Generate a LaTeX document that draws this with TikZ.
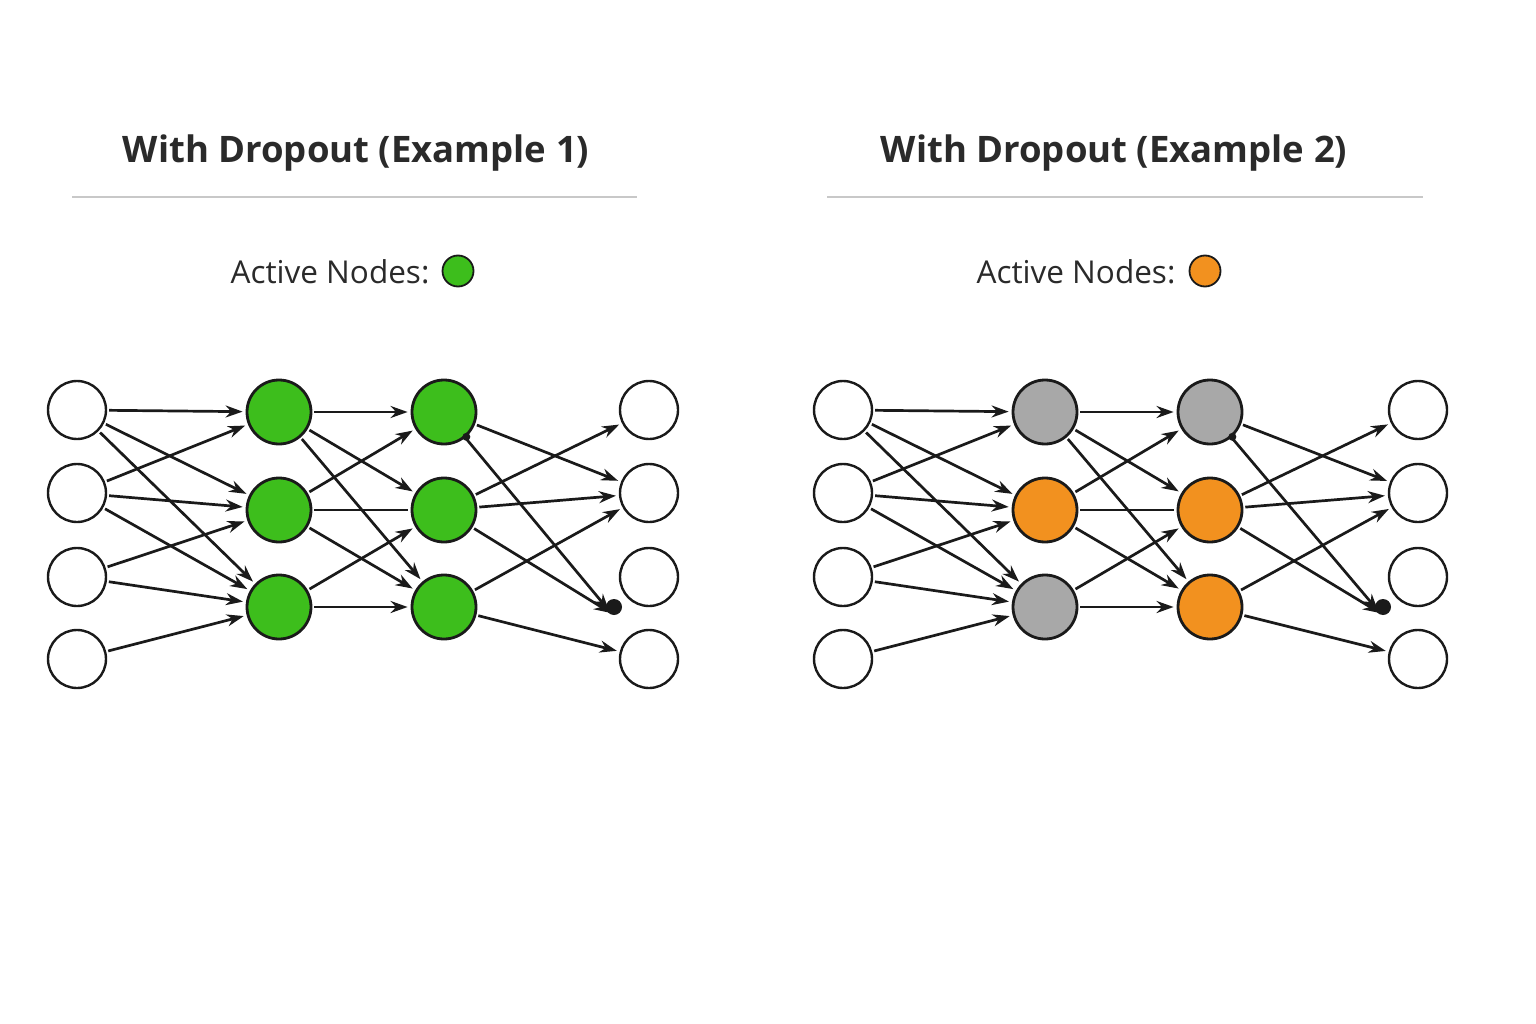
\documentclass[tikz,border=0pt]{standalone}
\usepackage{fontspec}
\setmainfont{Open Sans}
\usetikzlibrary{arrows.meta}
\definecolor{gr}{HTML}{3DBE1C}
\definecolor{og}{HTML}{F2911F}
\definecolor{gy}{HTML}{A8A8A8}
\definecolor{ink}{HTML}{1A1A1A}
\definecolor{txt}{HTML}{2A2A2A}
\definecolor{rulec}{HTML}{C8C8C8}
\tikzset{
  inn/.style={circle,draw=ink,line width=2.4pt,fill=white,minimum size=58pt,inner sep=0pt},
  hid/.style={circle,draw=ink,line width=2.8pt,minimum size=64pt,inner sep=0pt},
  arr/.style={-{Stealth[length=17pt,width=12pt]},line width=2.7pt,draw=ink,shorten >=3pt,shorten <=2pt},
  ln/.style={line width=2.7pt,draw=ink,shorten >=3pt,shorten <=2pt},
  titletxt/.style={font=\fontsize{36.5}{44}\selectfont\bfseries,text=txt,inner sep=0pt},
  legtxt/.style={font=\fontsize{31.5}{36}\selectfont,text=txt,inner sep=0pt},
  legdot/.style={circle,draw=ink,line width=1.8pt,minimum size=31pt,inner sep=0pt},
  rulel/.style={draw=rulec,line width=1.5pt}
}
\newcommand\netdraw[9]{%
\begin{scope}[name prefix=#1-, xshift=#2]
  \node[inn] (i1) at (77,410) {};
  \node[inn] (i2) at (77,493) {};
  \node[inn] (i3) at (77,577) {};
  \node[inn] (i4) at (77,659) {};
  \node[hid,fill=#4] (a1) at (279,412) {};
  \node[hid,fill=#5] (a2) at (279,510) {};
  \node[hid,fill=#6] (a3) at (279,607) {};
  \node[hid,fill=#7] (b1) at (444,412) {};
  \node[hid,fill=#8] (b2) at (444,510) {};
  \node[hid,fill=#9] (b3) at (444,607) {};
  \node[inn] (o1) at (#3,410) {};
  \node[inn] (o2) at (#3,493) {};
  \node[inn] (o3) at (#3,577) {};
  \node[inn] (o4) at (#3,659) {};
  \coordinate (blob) at (#3-35,607);
  \coordinate (blobin) at (#3-38,613);
  % input -> hidden 1
  \draw[arr] (i1) -- (a1);
  \draw[arr] (i1) -- (a2);
  \draw[arr] (i1) -- (a3);
  \draw[arr] (i2) -- (a1);
  \draw[arr] (i2) -- (a2);
  \draw[arr] (i2) -- (a3);
  \draw[arr] (i3) -- (a2);
  \draw[arr] (i3) -- (a3);
  \draw[arr] (i4) -- (a3);
  % hidden 1 -> hidden 2
  \draw[arr] (a1) -- (b1);
  \draw[arr] (a1) -- (b2);
  \draw[arr] (a1) -- (b3);
  \draw[arr] (a2) -- (b1);
  \draw[ln]  (a2) -- (b2);
  \draw[arr] (a2) -- (b3);
  \draw[arr] (a3) -- (b2);
  \draw[arr] (a3) -- (b3);
  % hidden 2 -> output
  \draw[arr] (b1) -- (o2);
  \draw[arr,shorten <=0pt] (b1) -- (blobin);
  \fill[ink] (b1.-48) circle (4pt);
  \draw[arr] (b2) -- (o1);
  \draw[arr] (b2) -- (o2);
  \draw[arr,shorten >=0pt] (b2) -- (blobin);
  \draw[arr] (b3) -- (o2);
  \draw[arr] (b3) -- (o4);
  \fill[ink] (blob) circle (8pt);
\end{scope}}
\begin{document}
\begin{tikzpicture}[x=1pt,y=-1pt]
  \useasboundingbox[fill=white] (0,0) rectangle (1536,1024);
  % left header
  \node[titletxt] (t1) at (356,153) {With Dropout (Example 1)};
  \coordinate (r1a) at (72,197);
  \coordinate (r1b) at (637,197);
  \draw[rulel] (r1a) -- (r1b);
  \node[legtxt] (l1) at (330,272) {Active Nodes:};
  \node[legdot,fill=gr] (d1) at (458,271) {};
  % right header
  \node[titletxt] (t2) at (1114,153) {With Dropout (Example 2)};
  \coordinate (r2a) at (827,197);
  \coordinate (r2b) at (1423,197);
  \draw[rulel] (r2a) -- (r2b);
  \node[legtxt] (l2) at (1076,272) {Active Nodes:};
  \node[legdot,fill=og] (d2) at (1205,271) {};
  % networks
  \netdraw{L}{0pt}{649}{gr}{gr}{gr}{gr}{gr}{gr}
  \netdraw{R}{766pt}{652}{gy}{og}{gy}{gy}{og}{og}
\end{tikzpicture}
\end{document}
